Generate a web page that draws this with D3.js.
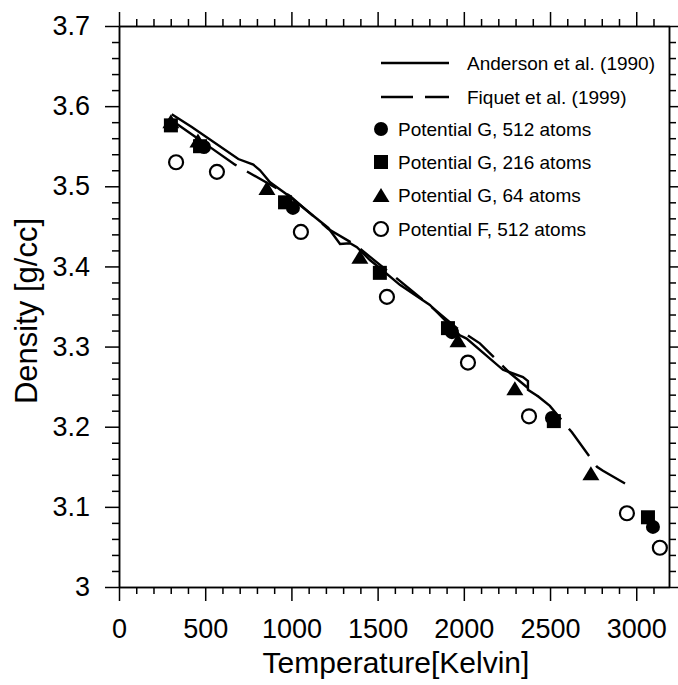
<!DOCTYPE html>
<html>
<head>
<meta charset="utf-8">
<script src="https://cdn.jsdelivr.net/npm/d3@7"></script>
<style>
  body { margin: 0; background: #fff; }
  svg { display: block; font-family: "Liberation Sans", Arial, Helvetica, sans-serif; }
  .axis path, .axis line { stroke: #000; stroke-width: 1.5; }
  .axis text { fill: #000; }
</style>
</head>
<body>
<svg id="chart"></svg>
<script>
// ---- data ----
const andersonT = [306, 422, 692, 779, 818, 876, 972, 1214, 1282, 1340, 1380, 1455, 1513, 1629, 1803, 1977, 2016, 2227, 2343, 2372, 2372, 2430];
const andersonD = [3.590, 3.574, 3.534, 3.527, 3.520, 3.505, 3.490, 3.448, 3.428, 3.429, 3.424, 3.408, 3.398, 3.377, 3.352, 3.314, 3.310, 3.271, 3.262, 3.257, 3.246, 3.238];

const fiquetT = [301, 673, 992, 1212, 1369, 1589, 1815, 1960, 2093, 2267, 2430, 2499, 2627, 2772, 2807, 2969];
const fiquetD = [3.583, 3.527, 3.488, 3.447, 3.427, 3.389, 3.349, 3.323, 3.304, 3.267, 3.238, 3.226, 3.193, 3.150, 3.145, 3.125];

const g512T = [493, 1009, 1931, 2511, 3097];
const g512D = [3.549, 3.473, 3.318, 3.211, 3.075];

const g216T = [301, 470, 963, 1513, 1908, 2522, 3068];
const g216D = [3.576, 3.550, 3.480, 3.392, 3.323, 3.207, 3.087];

const g64T = [301, 458, 858, 1397, 1966, 2296, 2737];
const g64D = [3.581, 3.557, 3.498, 3.412, 3.308, 3.248, 3.142];

const f512T = [331, 568, 1055, 1554, 2024, 2378, 2946, 3137];
const f512D = [3.530, 3.518, 3.443, 3.362, 3.280, 3.213, 3.092, 3.049];

const xMajor = [0, 500, 1000, 1500, 2000, 2500, 3000];
const yMajor = [3, 3.1, 3.2, 3.3, 3.4, 3.5, 3.6, 3.7];

const legendLabels = ['Anderson et al. (1990)', 'Fiquet et al. (1999)', 'Potential G, 512 atoms',
  'Potential G, 216 atoms', 'Potential G, 64 atoms', 'Potential F, 512 atoms'];

// ---- layout ----
const width = 678, height = 685;
const marginLeft = 119, marginRight = 9, marginTop = 26, marginBottom = 98;

const svg = d3.select('#chart').attr('width', width).attr('height', height);

const x = d3.scaleLinear().domain([0, 3190]).range([marginLeft, width - marginRight]);
const y = d3.scaleLinear().domain([3, 3.7]).range([height - marginBottom, marginTop]);

const xMinor = d3.range(100, 3200, 100).filter(v => v % 500 !== 0);
const yMinor = d3.range(1, 35).filter(i => i % 5 !== 0).map(i => 3 + i * 0.02);
const yFmt = d => d === 3 ? '3' : d.toFixed(1);

const bottom = height - marginBottom, right = width - marginRight;

// minor ticks
svg.append('g').attr('class', 'axis').attr('transform', `translate(0,${bottom})`)
  .call(d3.axisBottom(x).tickValues(xMinor).tickSize(7).tickSizeOuter(0).tickFormat(''));
svg.append('g').attr('class', 'axis').attr('transform', `translate(0,${marginTop})`)
  .call(d3.axisTop(x).tickValues(xMinor).tickSize(7).tickSizeOuter(0).tickFormat(''));
svg.append('g').attr('class', 'axis').attr('transform', `translate(${marginLeft},0)`)
  .call(d3.axisLeft(y).tickValues(yMinor).tickSize(7).tickSizeOuter(0).tickFormat(''));
svg.append('g').attr('class', 'axis').attr('transform', `translate(${right},0)`)
  .call(d3.axisRight(y).tickValues(yMinor).tickSize(7).tickSizeOuter(0).tickFormat(''));

// major ticks
svg.append('g').attr('class', 'axis').attr('transform', `translate(0,${bottom})`)
  .call(d3.axisBottom(x).tickValues(xMajor).tickSize(14).tickSizeOuter(0).tickPadding(18).tickFormat(d3.format('d')))
  .selectAll('text').style('font-size', '27px');
svg.append('g').attr('class', 'axis').attr('transform', `translate(0,${marginTop})`)
  .call(d3.axisTop(x).tickValues(xMajor).tickSize(14).tickSizeOuter(0).tickFormat(''));
svg.append('g').attr('class', 'axis').attr('transform', `translate(${marginLeft},0)`)
  .call(d3.axisLeft(y).tickValues(yMajor).tickSize(14).tickSizeOuter(0).tickPadding(15).tickFormat(yFmt))
  .selectAll('text').style('font-size', '27px');
svg.append('g').attr('class', 'axis').attr('transform', `translate(${right},0)`)
  .call(d3.axisRight(y).tickValues(yMajor).tickSize(14).tickSizeOuter(0).tickFormat(''));

// axis titles
svg.append('text').attr('x', 396).attr('y', 673).attr('text-anchor', 'middle')
  .style('font-size', '30px').text('Temperature[Kelvin]');
svg.append('text').attr('transform', `translate(37,311) rotate(-90)`).attr('text-anchor', 'middle')
  .style('font-size', '31px').text('Density [g/cc]');

// lines
const line = d3.line().x(d => x(d[0])).y(d => y(d[1]));
svg.append('path').datum(d3.zip(andersonT, andersonD)).attr('d', line)
  .attr('fill', 'none').attr('stroke', '#000').attr('stroke-width', 2.4);
svg.append('path').datum(d3.zip(fiquetT, fiquetD)).attr('d', line)
  .attr('fill', 'none').attr('stroke', '#000').attr('stroke-width', 2.4).attr('stroke-dasharray', '34,12');

// markers
const triPath = 'M0,-7L8.5,7L-8.5,7Z';
function drawCircles(T, D, open) {
  svg.append('g').selectAll('circle').data(d3.zip(T, D)).join('circle')
    .attr('cx', d => x(d[0])).attr('cy', d => y(d[1])).attr('r', 7)
    .attr('fill', open ? 'none' : '#000')
    .attr('stroke', open ? '#000' : 'none').attr('stroke-width', 2.2);
}
drawCircles(f512T, f512D, true);
svg.append('g').selectAll('path').data(d3.zip(g64T, g64D)).join('path')
  .attr('d', triPath).attr('transform', d => `translate(${x(d[0])},${y(d[1])})`).attr('fill', '#000');
svg.append('g').selectAll('rect').data(d3.zip(g216T, g216D)).join('rect')
  .attr('x', d => x(d[0]) - 7).attr('y', d => y(d[1]) - 7).attr('width', 14).attr('height', 14).attr('fill', '#000');
drawCircles(g512T, g512D, false);

// legend
const legendRows = [63, 97, 129, 162, 195, 229];
const lg = svg.append('g');
lg.append('line').attr('x1', 381).attr('x2', 449).attr('y1', legendRows[0]).attr('y2', legendRows[0])
  .attr('stroke', '#000').attr('stroke-width', 2.4);
lg.append('line').attr('x1', 381).attr('x2', 449).attr('y1', legendRows[1]).attr('y2', legendRows[1])
  .attr('stroke', '#000').attr('stroke-width', 2.4).attr('stroke-dasharray', '32,12');
lg.append('circle').attr('cx', 381).attr('cy', legendRows[2]).attr('r', 7).attr('fill', '#000');
lg.append('rect').attr('x', 374).attr('y', legendRows[3] - 7).attr('width', 14).attr('height', 14).attr('fill', '#000');
lg.append('path').attr('d', triPath).attr('transform', `translate(381,${legendRows[4]})`).attr('fill', '#000');
lg.append('circle').attr('cx', 381).attr('cy', legendRows[5]).attr('r', 7).attr('fill', 'none')
  .attr('stroke', '#000').attr('stroke-width', 2.2);
lg.selectAll('text').data(legendLabels).join('text')
  .attr('x', (d, i) => i < 2 ? 467 : 398).attr('y', (d, i) => legendRows[i]).attr('dy', '0.35em')
  .style('font-size', '19px').text(d => d);
</script>
</body>
</html>
